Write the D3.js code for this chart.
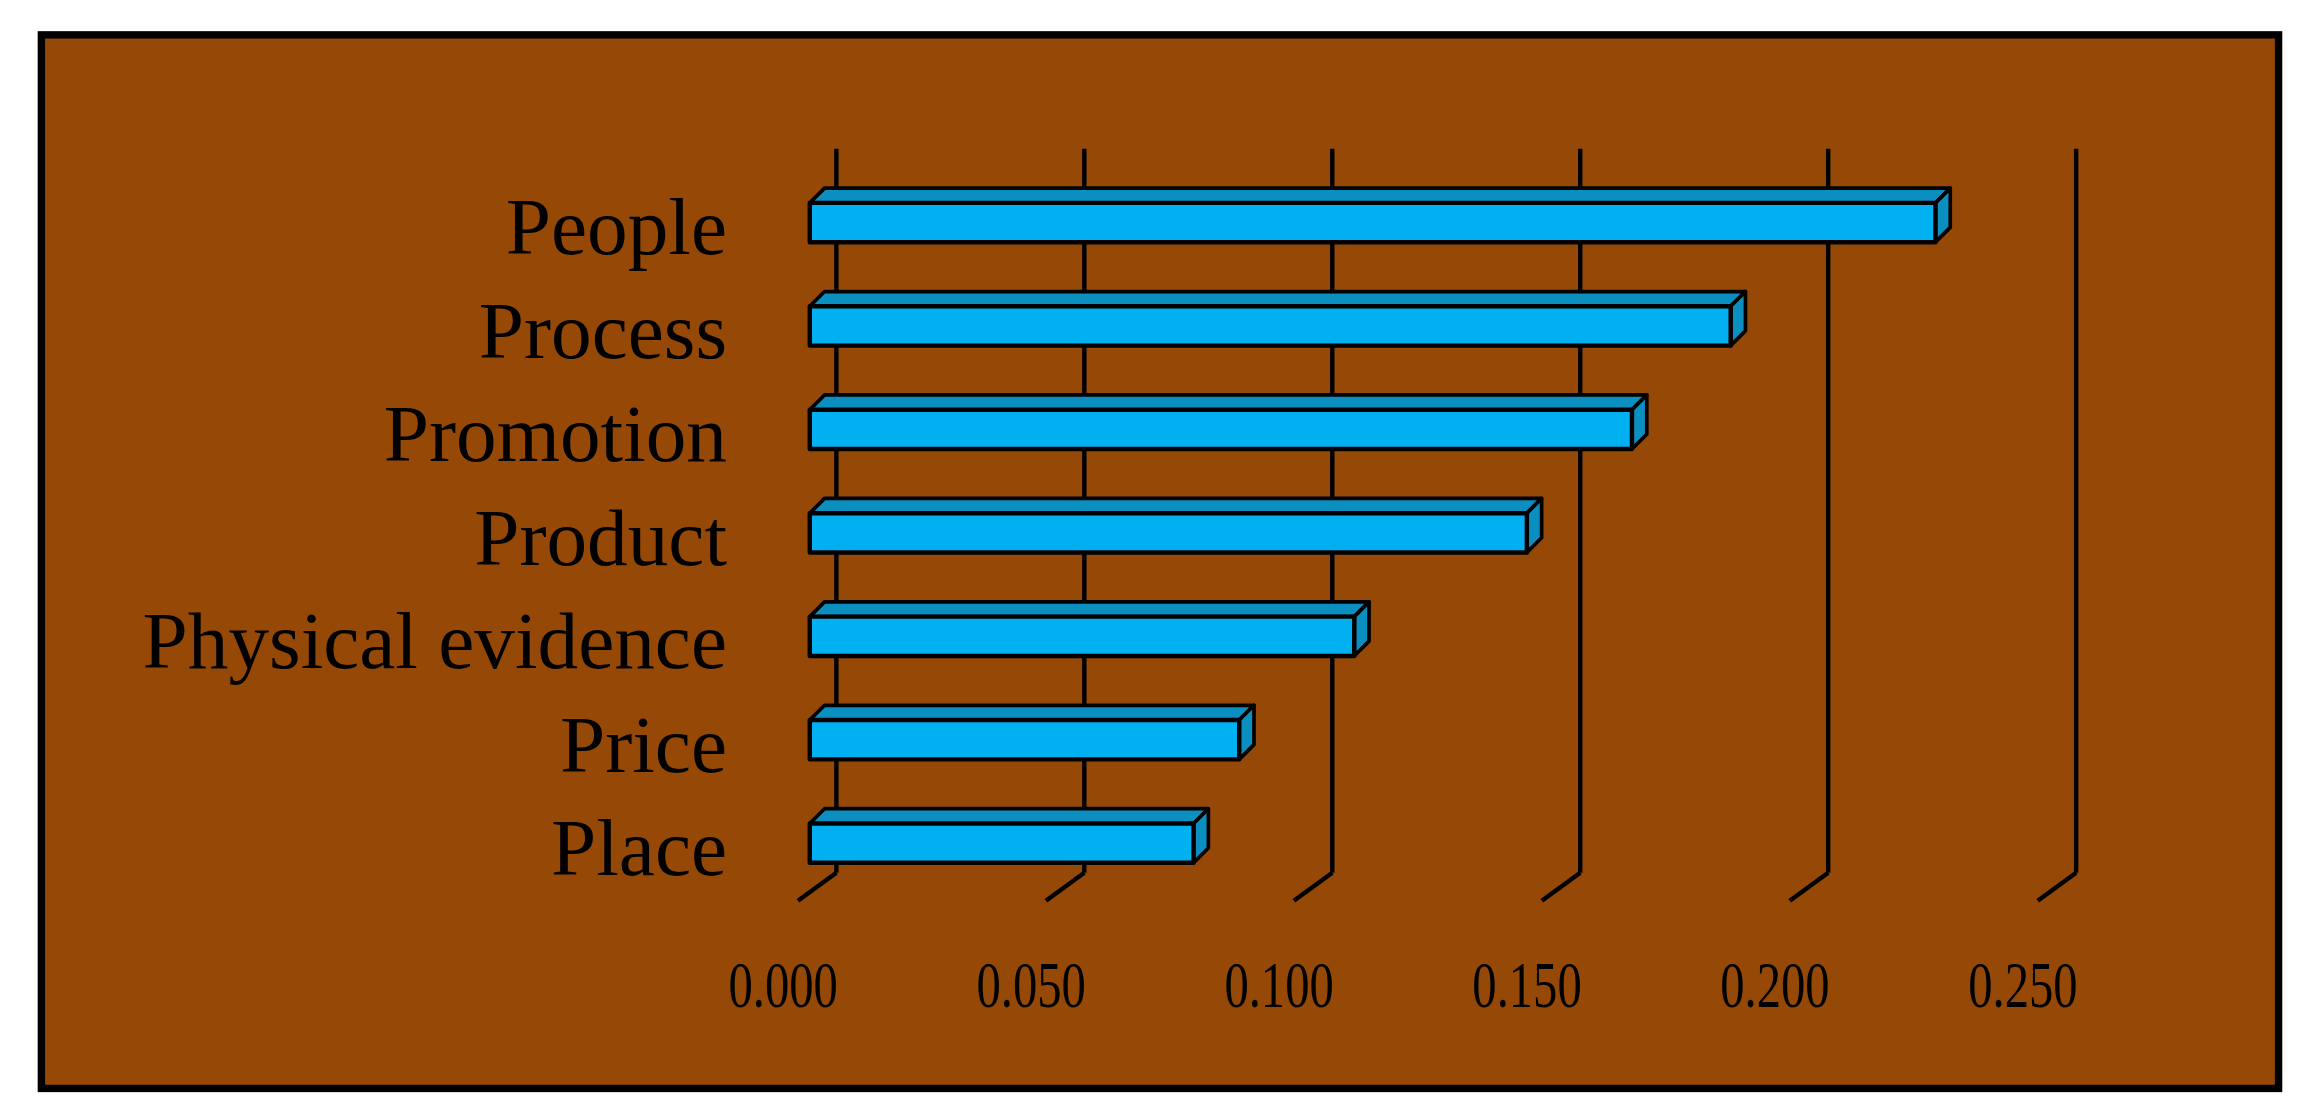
<!DOCTYPE html>
<html><head><meta charset="utf-8">
<script src="https://cdn.jsdelivr.net/npm/d3@7"></script>
<style>html,body{margin:0;padding:0;background:#fff}</style>
</head><body>
<svg id="c" width="2317" height="1110" viewBox="0 0 1568 750"></svg>
<script>
const categories = ["People","Process","Promotion","Product","Physical evidence","Price","Place"];
const values = [0.227, 0.1857, 0.1658, 0.1446, 0.1098, 0.0866, 0.0774];
const tickValues = [0, 0.05, 0.10, 0.15, 0.20, 0.25];
const tickLabels = ["0.000","0.050","0.100","0.150","0.200","0.250"];

const svg = d3.select("#c");
svg.append("rect").attr("x",28).attr("y",23).attr("width",1514).attr("height",713)
  .attr("fill","#964807").attr("stroke","#000").attr("stroke-width",5);

const x = d3.scaleLinear().domain([0,0.25]).range([566,1405]);
const y = d3.scaleBand().domain(categories).range([115,605]).paddingInner(0.62).paddingOuter(0.31);
const fdx = -18;
const floorDx = -26, floorDy = 19;
const gTop = 100, gBot = 590;

tickValues.forEach(v=>{
  svg.append("line").attr("x1",x(v)).attr("x2",x(v)).attr("y1",gTop).attr("y2",gBot)
    .attr("stroke","#000").attr("stroke-width",3);
  svg.append("line").attr("x1",x(v)).attr("y1",gBot).attr("x2",x(v)+floorDx).attr("y2",gBot+floorDy)
    .attr("stroke","#000").attr("stroke-width",3);
});

const depth = 10;
categories.forEach((c,i)=>{
  const x0 = x(0)+fdx, x1 = x(values[i])+fdx;
  const yt = y(c), h = y.bandwidth();
  svg.append("polygon").attr("points",[[x0,yt],[x0+depth,yt-depth],[x1+depth,yt-depth],[x1,yt]].join(" "))
    .attr("fill","#0a8fc0").attr("stroke","#000").attr("stroke-width",2.5).attr("stroke-linejoin","round");
  svg.append("polygon").attr("points",[[x1,yt],[x1+depth,yt-depth],[x1+depth,yt+h-depth],[x1,yt+h]].join(" "))
    .attr("fill","#0a8fc0").attr("stroke","#000").attr("stroke-width",2.5).attr("stroke-linejoin","round");
  svg.append("rect").attr("x",x0).attr("y",yt).attr("width",x1-x0).attr("height",h)
    .attr("fill","#00B0F0").attr("stroke","#000").attr("stroke-width",3).attr("stroke-linejoin","round");
});

svg.selectAll("text.cat").data(categories).join("text").attr("class","cat")
  .attr("x",492).attr("y",d=>y(d)+y.bandwidth()/2+9)
  .attr("text-anchor","end").attr("dominant-baseline","middle")
  .attr("font-family","Liberation Serif, Times New Roman, serif").attr("font-size",55).attr("fill","#000")
  .text(d=>d);

svg.selectAll("text.tick").data(tickValues).join("text").attr("class","tick")
  .attr("x",d=>x(d)-36).attr("y",681)
  .attr("text-anchor","middle")
  .attr("font-family","Liberation Serif, Times New Roman, serif").attr("font-size",44).attr("fill","#000")
  .attr("textLength",74).attr("lengthAdjust","spacingAndGlyphs")
  .text((d,i)=>tickLabels[i]);
</script>
</body></html>
